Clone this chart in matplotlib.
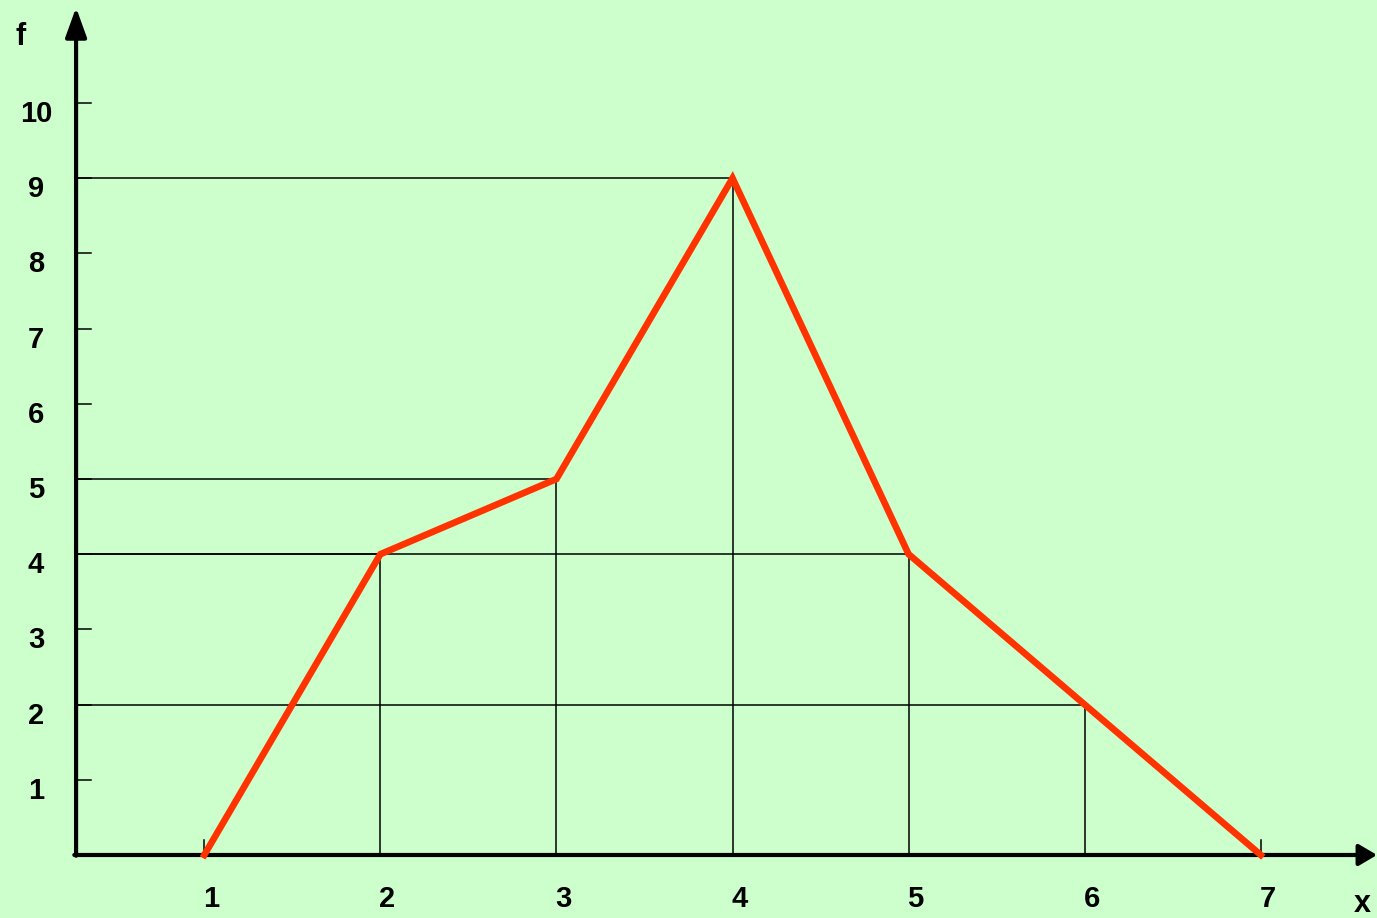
import matplotlib.pyplot as plt

# --- data ---
x_vals = [1, 2, 3, 4, 5, 6, 7]
f_vals = [0, 4, 5, 9, 4, 2, 0]
y_ticks = [1, 2, 3, 4, 5, 6, 7, 8, 9, 10]

BG = '#CCFFCC'
RED = '#FF3300'

fig = plt.figure(figsize=(13.77, 9.18), dpi=100, facecolor=BG)
ax = fig.add_axes([0, 0, 1, 1])
ax.set_facecolor(BG)
ax.axis('off')

# axes limits chosen so that the picture lines up with the reference
X0, X1 = -0.16, 7.66
Y0, Y1 = -0.838, 11.37
ax.set_xlim(X0, X1)
ax.set_ylim(Y0, Y1)

xa = 0.272  # where the f axis sits
x_end = X1
y_end = 11.27

# drop lines from each point
for xv, fv in zip(x_vals, f_vals):
    if fv > 0:
        ax.plot([xv, xv], [0, fv], color='black', lw=1.1, zorder=2)
        ax.plot([xa, xv], [fv, fv], color='black', lw=1.1, zorder=2)

# small ticks on the f axis
for yt in y_ticks:
    ax.plot([xa, xa + 0.085], [yt, yt], color='black', lw=1.1, zorder=2)
    ax.annotate(str(yt), (xa, yt), xytext=(-40, -11), textcoords='offset pixels',
                ha='center', va='center', fontsize=21, fontweight='bold',
                family='Liberation Sans')

# small ticks at the ends of the x axis
for xt in (x_vals[0], x_vals[-1]):
    ax.plot([xt, xt], [0, 0.2], color='black', lw=1.1, zorder=2)

for xv in x_vals:
    ax.annotate(str(xv), (xv, 0), xytext=(7, -44), textcoords='offset pixels',
                ha='center', va='center', fontsize=21, fontweight='bold',
                family='Liberation Sans')

# axes with arrow heads
ax.annotate('', xy=(x_end, 0), xytext=(xa - 0.01, 0),
            arrowprops=dict(arrowstyle='-|>,head_length=1.1,head_width=0.65',
                            lw=3, color='black', shrinkA=0, shrinkB=0), zorder=3)
ax.annotate('', xy=(xa, y_end), xytext=(xa, -0.01),
            arrowprops=dict(arrowstyle='-|>,head_length=1.8,head_width=0.65',
                            lw=3, color='black', shrinkA=0, shrinkB=0), zorder=3)

# polygon
ax.plot(x_vals, f_vals, color=RED, lw=4.8, solid_joinstyle='miter', zorder=4)

ax.annotate('f', (xa, y_end), xytext=(-55, -29), textcoords='offset pixels',
            ha='center', va='center', fontsize=22, fontweight='bold',
            family='Liberation Sans')
ax.annotate('x', (x_end, 0), xytext=(-15, -49), textcoords='offset pixels',
            ha='center', va='center', fontsize=22, fontweight='bold',
            family='Liberation Sans')

fig.savefig('out.png', dpi=100, facecolor=BG)
